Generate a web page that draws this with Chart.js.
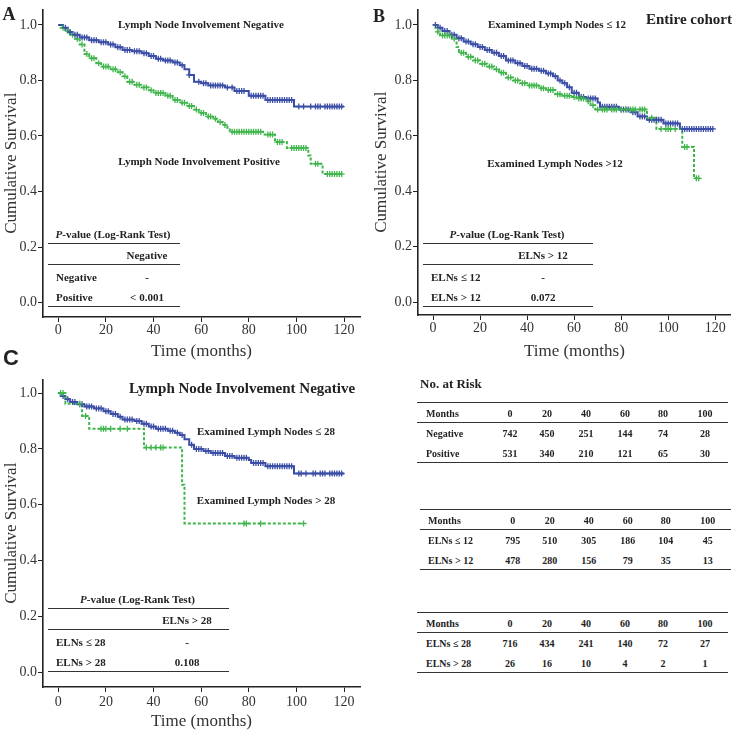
<!DOCTYPE html>
<html>
<head>
<meta charset="utf-8">
<script src="https://cdn.jsdelivr.net/npm/chart.js@4"></script>
<style>
body{margin:0;width:736px;height:731px;position:relative;background:#fff;overflow:hidden;font-family:"Liberation Serif",serif;color:#222}
canvas{position:absolute}
.t{position:absolute;white-space:nowrap;font-weight:bold;line-height:1}
.c{transform:translate(-50%,-50%)}
.l{transform:translateY(-50%)}
.rule{position:absolute;height:0;border-top:1.6px solid #333}
</style>
</head>
<body>
<canvas id="chartA"></canvas>
<canvas id="chartB"></canvas>
<canvas id="chartC"></canvas>
<script>
// ---------- data ----------
const xTicks = [0, 20, 40, 60, 80, 100, 120];
const yTicks = [0, 0.2, 0.4, 0.6, 0.8, 1.0];

// A - lymph node involvement negative / positive
const negTimes = [0, 2, 4, 6, 9, 13, 17, 21, 24, 27, 31, 35, 38, 41, 44, 48, 51, 53, 55, 57, 60, 63, 70, 74, 80, 87, 99];
const negSurv  = [1, 0.99, 0.975, 0.965, 0.955, 0.945, 0.938, 0.93, 0.92, 0.91, 0.905, 0.898, 0.888, 0.878, 0.872, 0.865, 0.855, 0.84, 0.82, 0.795, 0.79, 0.782, 0.775, 0.762, 0.745, 0.73, 0.706];
const negEnd = 120;
const negCens = [3,5,7,8,10,11,12,14,15,16,18,19,20,22,23,25,26,28,29,30,32,33,34,36,37,39,40,42,43,45,46,47,49,50,52,55,59,61,62,64,65,66,67,68,69,71,73,75,76,77,78,81,82,83,84,85,86,88,89,90,91,92,93,94,95,96,97,98,101,103,106,108,109,110,112,113,114,115,116,117,118,119];

const posTimes = [0, 1, 3, 5, 7, 9, 11, 13, 16, 18, 22, 25, 27, 29, 32, 35, 38, 40, 45, 48, 51, 54, 57, 59, 62, 65, 67, 69, 71, 72, 86, 91, 96, 105, 106, 111];
const posSurv  = [1, 0.99, 0.978, 0.965, 0.95, 0.93, 0.895, 0.88, 0.862, 0.85, 0.84, 0.83, 0.815, 0.795, 0.785, 0.775, 0.765, 0.755, 0.745, 0.73, 0.72, 0.708, 0.695, 0.683, 0.67, 0.662, 0.65, 0.64, 0.63, 0.615, 0.605, 0.578, 0.557, 0.53, 0.5, 0.463];
const posEnd = 120;
const posCens = [2,4,6,8,10,12,14,15,17,19,20,21,23,24,26,28,30,31,33,34,36,37,39,41,42,43,44,46,47,49,50,52,53,55,56,58,60,61,63,64,66,68,70,73,74,75,76,77,78,79,80,81,82,83,84,85,88,89,90,92,93,94,98,99,100,101,102,103,104,108,109,113,114,115,116,117,118,119];

// B - examined lymph nodes <=12 / >12
const le12Times = [0, 2, 4, 7, 10, 13, 16, 19, 22, 25, 28, 31, 35, 38, 41, 45, 48, 51, 53, 55, 57, 59, 62, 65, 70, 71, 79, 84, 87, 91, 98, 105];
const le12Surv  = [1, 0.99, 0.978, 0.965, 0.952, 0.94, 0.93, 0.92, 0.91, 0.9, 0.888, 0.872, 0.862, 0.852, 0.842, 0.835, 0.825, 0.815, 0.8, 0.79, 0.775, 0.755, 0.74, 0.735, 0.72, 0.705, 0.695, 0.685, 0.67, 0.658, 0.645, 0.625];
const le12End = 119;
const le12Cens = [1,3,5,6,8,9,11,12,14,15,17,18,20,21,23,24,26,27,29,30,32,33,34,36,37,39,40,42,43,44,46,47,49,50,52,54,56,58,60,61,63,64,66,67,68,69,72,73,74,75,76,77,78,80,81,82,83,85,86,88,89,90,92,93,94,95,96,97,99,100,101,102,103,104,106,107,108,109,110,111,112,113,114,115,116,117,118,119];

const gt12Times = [0, 1, 2, 3, 8, 10, 11, 14, 17, 20, 23, 26, 28, 31, 34, 37, 40, 45, 48, 52, 55, 59, 61, 65, 67, 69, 91, 95, 106, 111];
const gt12Surv  = [1, 0.99, 0.975, 0.962, 0.95, 0.92, 0.9, 0.885, 0.872, 0.86, 0.85, 0.84, 0.828, 0.81, 0.8, 0.79, 0.782, 0.772, 0.765, 0.75, 0.745, 0.74, 0.735, 0.725, 0.71, 0.695, 0.665, 0.625, 0.56, 0.447];
const gt12End = 113;
const gt12Cens = [2,4,5,6,7,9,12,13,15,16,18,19,21,22,24,25,27,29,30,32,33,35,36,38,39,41,42,43,44,46,47,49,50,51,53,54,56,57,58,60,62,63,64,66,68,70,72,73,74,76,77,78,80,82,84,85,86,88,89,90,93,97,99,100,101,103,107,108,112,113];

// C - negative cohort, examined lymph nodes <=28 / >28
const le28Times = [0, 1, 3, 5, 8, 11, 15, 19, 22, 25, 27, 32, 35, 38, 41, 46, 49, 51, 53, 55, 57, 61, 64, 70, 74, 80, 81, 87, 99];
const le28Surv  = [1, 0.99, 0.978, 0.968, 0.96, 0.952, 0.945, 0.935, 0.925, 0.915, 0.905, 0.9, 0.89, 0.88, 0.872, 0.865, 0.858, 0.85, 0.835, 0.815, 0.8, 0.793, 0.785, 0.775, 0.768, 0.76, 0.75, 0.738, 0.712];
const le28End = 120;
const le28Cens = [2,4,6,7,9,10,12,13,14,16,17,18,20,21,23,24,26,28,29,30,31,33,34,36,37,39,40,42,43,44,45,47,48,50,52,56,58,59,60,62,63,65,66,67,68,69,71,72,73,75,76,77,78,79,82,83,84,85,86,88,89,90,91,92,93,94,95,96,97,98,101,102,104,107,108,110,111,112,114,115,116,117,118,119];

const gt28Times = [0, 3, 10, 13, 36, 52, 53];
const gt28Surv  = [1, 0.962, 0.918, 0.872, 0.805, 0.672, 0.533];
const gt28End = 103;
const gt28Cens = [1, 2, 9, 11.5, 18, 19, 20, 22, 26, 29, 37, 39, 41, 43, 44, 78, 79, 85, 103];

// numbers at risk
const riskMonths = [0, 20, 40, 60, 80, 100];
const riskNeg  = [742, 450, 251, 144, 74, 28];
const riskPos  = [531, 340, 210, 121, 65, 30];
const riskLe12 = [795, 510, 305, 186, 104, 45];
const riskGt12 = [478, 280, 156, 79, 35, 13];
const riskLe28 = [716, 434, 241, 140, 72, 27];
const riskGt28 = [26, 16, 10, 4, 2, 1];

// ---------- helpers ----------
const BLUE = "#3b4ea6";
const GREEN = "#3fb54b";
const SERIF = "Liberation Serif";

function survAt(times, surv, t){
  let s = surv[0];
  for (let i = 0; i < times.length; i++) if (times[i] <= t) s = surv[i];
  return s;
}

function kmLine(times, surv, end, color, dash){
  const pts = times.map((t, i) => ({x: t, y: surv[i]}));
  pts.push({x: end, y: surv[surv.length - 1]});
  return {data: pts, showLine: true, stepped: true, borderColor: color, borderWidth: 2,
    borderDash: dash, pointRadius: 0, fill: false};
}

function kmMarks(times, surv, cens, color){
  return {data: cens.map(c => ({x: c, y: survAt(times, surv, c)})), showLine: false,
    pointStyle: "cross", pointRadius: 3, borderColor: color, borderWidth: 1.3, rotation: 0};
}

function kmChart(id, box, sets){
  const cv = document.getElementById(id);
  cv.style.left = box.left + "px";
  cv.style.top = box.top + "px";
  cv.width = box.w; cv.height = box.h;
  cv.style.width = box.w + "px"; cv.style.height = box.h + "px";
  new Chart(cv, {
    type: "scatter",
    data: {datasets: sets},
    options: {
      responsive: false,
      animation: false,
      layout: {padding: {top: box.padTop, right: box.padRight, left: 0, bottom: 0}},
      plugins: {legend: {display: false}, tooltip: {enabled: false}},
      scales: {
        x: {
          type: "linear", min: -6.4, max: box.xMax,
          afterBuildTicks: s => { s.ticks = xTicks.map(v => ({value: v})); },
          afterFit: s => { s.height = box.xH; },
          grid: {drawOnChartArea: false, drawTicks: true, tickLength: 5, color: "#222"},
          border: {color: "#222", width: 1.6},
          ticks: {font: {family: SERIF, size: 14}, color: "#333", padding: box.xTickPad, maxRotation: 0},
          title: {display: true, text: "Time (months)", font: {family: SERIF, size: 17}, color: "#333", padding: 0}
        },
        y: {
          min: box.yMin, max: box.yMax,
          afterBuildTicks: s => { s.ticks = yTicks.map(v => ({value: v})); },
          afterFit: s => { s.width = box.yW; },
          grid: {drawOnChartArea: false, drawTicks: true, tickLength: 5, color: "#222"},
          border: {color: "#222", width: 1.6},
          ticks: {font: {family: SERIF, size: 14}, color: "#333", padding: 1, callback: v => v.toFixed(1)},
          title: {display: true, text: "Cumulative Survival", font: {family: SERIF, size: 17}, color: "#333", padding: {top: 1, bottom: 0}}
        }
      }
    }
  });
}

function txt(html, x, y, size, mode, family){
  const d = document.createElement("div");
  d.className = "t " + (mode || "c");
  d.innerHTML = html;
  d.style.left = x + "px"; d.style.top = y + "px";
  d.style.fontSize = size + "px";
  if (family) { d.style.fontFamily = family; }
  document.body.appendChild(d);
}

function rule(x0, x1, y){
  const d = document.createElement("div");
  d.className = "rule";
  d.style.left = x0 + "px"; d.style.width = (x1 - x0) + "px"; d.style.top = (y - 0.8) + "px";
  document.body.appendChild(d);
}

// ---------- charts ----------
kmChart("chartA", {left: 0, top: 0, w: 368, h: 362, padTop: 0, padRight: 8, xH: 45, yW: 43, xTickPad: 0, xMax: 126.7, yMin: -0.052, yMax: 1.056}, [
  kmMarks(negTimes, negSurv, negCens, BLUE),
  kmMarks(posTimes, posSurv, posCens, GREEN),
  kmLine(negTimes, negSurv, negEnd, BLUE, []),
  kmLine(posTimes, posSurv, posEnd, GREEN, [3, 2])
]);

kmChart("chartB", {left: 370, top: 0, w: 366, h: 362, padTop: 0, padRight: 1, xH: 47, yW: 48, xTickPad: 0, xMax: 126.6, yMin: -0.046, yMax: 1.056}, [
  kmMarks(gt12Times, gt12Surv, gt12Cens, GREEN),
  kmMarks(le12Times, le12Surv, le12Cens, BLUE),
  kmLine(gt12Times, gt12Surv, gt12End, GREEN, [3, 2]),
  kmLine(le12Times, le12Surv, le12End, BLUE, [])
]);

kmChart("chartC", {left: 0, top: 370, w: 368, h: 362, padTop: 2, padRight: 8, xH: 45, yW: 43, xTickPad: 2, xMax: 126.7, yMin: -0.0525, yMax: 1.049}, [
  kmMarks(gt28Times, gt28Surv, gt28Cens, GREEN),
  kmMarks(le28Times, le28Surv, le28Cens, BLUE),
  kmLine(gt28Times, gt28Surv, gt28End, GREEN, [3, 2]),
  kmLine(le28Times, le28Surv, le28End, BLUE, [])
]);

// ---------- panel letters and curve labels ----------
txt("A", 9, 14, 18, "c", SERIF);
txt("B", 379, 16, 18, "c", SERIF);
txt("C", 11, 358, 22, "c", "Liberation Sans");

txt("Lymph Node Involvement Negative", 201, 24, 11);
txt("Lymph Node Involvement Positive", 199, 161, 11);
txt("Examined Lymph Nodes \u2264 12", 557, 24, 11);
txt("Entire cohort", 689, 19, 15);
txt("Examined Lymph Nodes &gt;12", 555, 163, 11);
txt("Lymph Node Involvement Negative", 242, 388, 15);
txt("Examined Lymph Nodes \u2264 28", 266, 431, 11);
txt("Examined Lymph Nodes &gt; 28", 266, 500, 11);

// ---------- log-rank tables ----------
function pTable(x0, x1, yTop, colX, head, rows){
  txt("<i>P</i>-value (Log-Rank Test)", (x0 + x1) / 2 - 1, yTop - 10, 11);
  rule(x0, x1, yTop);
  txt(head, colX, yTop + 11, 11);
  rule(x0, x1, yTop + 21);
  rows.forEach((r, i) => {
    txt(r[0], x0 + 8, yTop + 33 + i * 20, 11, "l");
    txt(r[1], colX, yTop + 33 + i * 20, 11);
  });
  rule(x0, x1, yTop + 63);
}
pTable(48, 180, 244, 147, "Negative", [["Negative", "-"], ["Positive", "&lt; 0.001"]]);
pTable(423, 593, 244, 543, "ELNs &gt; 12", [["ELNs \u2264 12", "-"], ["ELNs &gt; 12", "0.072"]]);
pTable(48, 229, 609, 187, "ELNs &gt; 28", [["ELNs \u2264 28", "-"], ["ELNs &gt; 28", "0.108"]]);

// ---------- numbers at risk ----------
txt("No. at Risk", 420, 383, 13, "l");
function riskTable(x0, x1, yTop, labelX, cols, rows){
  rule(x0, x1, yTop);
  txt("Months", labelX, yTop + 11, 10, "l");
  riskMonths.forEach((m, i) => txt(String(m), cols[i], yTop + 11, 10));
  rule(x0, x1, yTop + 20);
  rows.forEach((r, j) => {
    const y = yTop + 31 + j * 20;
    txt(r[0], labelX, y, 10, "l");
    r[1].forEach((v, i) => txt(String(v), cols[i], y, 10));
  });
  rule(x0, x1, yTop + 60);
}
const colsA = [510, 547, 586, 625, 663, 705];
const colsB = colsA.map(c => c + 2.7);
riskTable(417, 728, 403, 426, colsA, [["Negative", riskNeg], ["Positive", riskPos]]);
riskTable(420, 731, 510, 428, colsB, [["ELNs \u2264 12", riskLe12], ["ELNs &gt; 12", riskGt12]]);
riskTable(417, 728, 613, 426, colsA, [["ELNs \u2264 28", riskLe28], ["ELNs &gt; 28", riskGt28]]);
</script>
</body>
</html>
